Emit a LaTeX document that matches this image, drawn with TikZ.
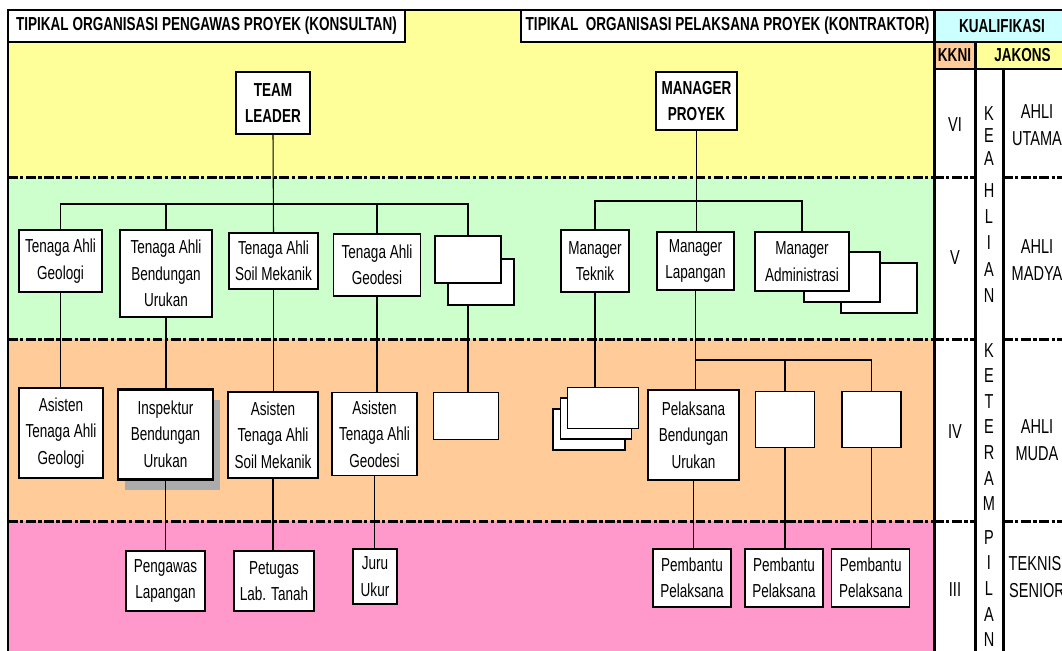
\documentclass[tikz,border=0pt]{standalone}
\usepackage{fontspec}
\setmainfont{Liberation Sans}[FakeStretch=0.72]
\usepackage{tikz}
\usetikzlibrary{positioning, backgrounds, shadows}
\definecolor{bandyellow}{HTML}{FFFF99}
\definecolor{bandgreen}{HTML}{CCFFCC}
\definecolor{bandorange}{HTML}{FFCC99}
\definecolor{bandpink}{HTML}{FF99CC}
\definecolor{headcyan}{HTML}{CCFFFF}
\newcommand{\boxfont}{\fontsize{10.7}{15}\selectfont}
\newcommand{\colfont}{\fontsize{11.5}{15}\selectfont}

\begin{document}
\begin{tikzpicture}[
    x=0.02cm, y=-0.02cm,
    wh/.style 2 args={minimum width=#1*0.02cm, minimum height=#2*0.02cm},
    n/.style={rectangle, draw, fill=white, line width=0.7pt, inner sep=0pt,
              align=center, font=\boxfont},
    nb/.style={n, font=\boxfont\bfseries, line width=0.9pt},
    hd/.style={rectangle, draw, line width=1.7pt, inner sep=0pt, font=\boxfont\bfseries},
    t/.style={inner sep=0pt, align=center, font=\colfont},
    e/.style={line width=0.6pt},
    bd/.style={line width=1.7pt},
    dl/.style={line width=1.7pt, dash pattern=on 5.5pt off 1.5pt on 1.8pt off 1.5pt}
]
\useasboundingbox (0,0) rectangle (1062,650);

% header row
\node[hd, fill=white, wh={397}{32}] (konsultan) at (206.5,26) {TIPIKAL ORGANISASI PENGAWAS PROYEK (KONSULTAN)};
\node[hd, fill=white, wh={413}{32}] (kontraktor) at (727.5,26) {TIPIKAL\ \ ORGANISASI PELAKSANA PROYEK (KONTRAKTOR)};
\node[hd, fill=headcyan, wh={136}{32}] (kualifikasi) at (1002,26) {KUALIFIKASI};
\node[hd, fill=bandorange, wh={41}{27}] (kkni) at (954.5,55.5) {KKNI};
\node[hd, fill=bandyellow, wh={95}{27}] (jakons) at (1022.5,55.5) {JAKONS};

% konsultan
\node[nb, wh={74}{62}] (tl) at (273,103) {TEAM\\LEADER};
\node[n, wh={83}{62}] (tag) at (60.5,261) {Tenaga Ahli\\Geologi};
\node[n, wh={92}{87}] (tab) at (166,273.5) {Tenaga Ahli\\Bendungan\\Urukan};
\node[n, wh={89}{56}] (tas) at (273.5,261) {Tenaga Ahli\\Soil Mekanik};
\node[n, wh={87}{62}] (tad) at (377,265) {Tenaga Ahli\\Geodesi};
\node[n, wh={66}{46}] (txb) at (481,282) {};
\node[n, wh={66}{47}] (txf) at (468,259.5) {};

\node[n, wh={84}{90}] (atg) at (61,433) {Asisten\\Tenaga Ahli\\Geologi};
\node[n, wh={95}{90}, line width=1.7pt,
      drop shadow={shadow xshift=3.7pt, shadow yshift=-6pt, fill=black!33, opacity=1}]
      (ibu) at (165.5,434) {Inspektur\\Bendungan\\Urukan};
\node[n, wh={90}{86}] (ats) at (273,435) {Asisten\\Tenaga Ahli\\Soil Mekanik};
\node[n, wh={85}{83}] (atd) at (374.5,434) {Asisten\\Tenaga Ahli\\Geodesi};
\node[n, wh={65}{47}] (ax) at (466,416) {};

\node[n, wh={79}{60}] (pl) at (165.5,581) {Pengawas\\Lapangan};
\node[n, wh={80}{60}] (plt) at (274,581) {Petugas\\Lab. Tanah};
\node[n, wh={44}{55}] (ju) at (375,576.5) {Juru\\Ukur};

% kontraktor
\node[nb, wh={81}{58}] (mp) at (696.5,101) {MANAGER\\PROYEK};
\node[n, wh={68}{62}] (mt) at (595,261) {Manager\\Teknik};
\node[n, wh={77}{58}] (ml) at (695.5,261) {Manager\\Lapangan};
\node[n, wh={76}{50}] (mab2) at (879,288) {};
\node[n, wh={76}{50}] (mab1) at (842,277) {};
\node[n, wh={94}{59}] (ma) at (802,261.5) {Manager\\Administrasi};

\node[n, wh={72}{41}] (ms3) at (589,429.5) {};
\node[n, wh={71}{41}] (ms2) at (596.3,418.5) {};
\node[n, wh={71}{41}] (ms1) at (603,408) {};
\node[n, wh={91}{90}] (pbu) at (693.5,435) {Pelaksana\\Bendungan\\Urukan};
\node[n, wh={59}{56}] (pa) at (785,419.5) {};
\node[n, wh={59}{56}] (pb) at (871.4,419.5) {};

\node[n, wh={78}{58}] (pp1) at (692,578) {Pembantu\\Pelaksana};
\node[n, wh={78}{58}] (pp2) at (784,578) {Pembantu\\Pelaksana};
\node[n, wh={78}{58}] (pp3) at (870.7,578) {Pembantu\\Pelaksana};

% kualifikasi
\node[t] (vi) at (955,125) {VI};
\node[t] (v) at (955,258) {V};
\node[t] (iv) at (955,432) {IV};
\node[t] (iii) at (955,590) {III};
\node[t, font=\fontsize{11.5}{12.8}\selectfont] (keahlian1) at (989,136) {K\\E\\A};
\node[t] (keahlian2) at (989,243) {H\\L\\I\\A\\N};
\node[t, font=\fontsize{11.5}{14.6}\selectfont] (keterampilan1) at (989,427) {K\\E\\T\\E\\R\\A\\M};
\node[t, font=\fontsize{11.5}{14.6}\selectfont] (keterampilan2) at (989,588.5) {P\\I\\L\\A\\N};
\node[t] (utama) at (1037,125) {AHLI\\UTAMA};
\node[t] (madya) at (1037,260) {AHLI\\MADYA};
\node[t] (muda) at (1037,440) {AHLI\\MUDA};
\node[t] (senior) at (1037,577) {TEKNISI\\SENIOR};

% line over the shadow
\draw[e] (ibu.south) -- (ibu.south |- pl.north);

\begin{scope}[on background layer]
% bands
\fill[bandyellow] (8,10) rectangle (934,177);
\fill[bandgreen] (8,177) rectangle (934,339);
\fill[bandorange] (8,339) rectangle (934,521);
\fill[bandpink] (8,521) rectangle (934,660);
\fill[white] (934,69) rectangle (1070,660);
\foreach \y in {177,339,521} {
  \draw[dl] (8,\y) -- (934,\y);
  \draw[dl] (934,\y) -- (975,\y);
  \draw[dl] (1003,\y) -- (1070,\y);
}
% connectors konsultan
\coordinate (kbus) at (273,204);
\draw[e] (tl.south) -- (tas.north);
\draw[e] (tag.north) |- (kbus) -| (txf.north);
\draw[e] (tab.north) -- (tab.north |- kbus);
\draw[e] (tad.north) -- (tad.north |- kbus);
\draw[e] (tag.south) -- (tag.south |- atg.north);
\draw[e] (tab.south) -- (tab.south |- ibu.north);
\draw[e] (tas.south) -- (tas.south |- ats.north);
\draw[e] (tad.south) -- (tad.south |- atd.north);
\draw[e] (txf.south) -- (txf.south |- ax.north);
\draw[e] (ats.south) -- (ats.south |- plt.north);
\draw[e] (atd.south) -- (atd.south |- ju.north);
% connectors kontraktor
\coordinate (cbus) at (696,201);
\coordinate (pbus) at (785,360);
\draw[e] (mp.south) -- (mp.south |- ml.north);
\draw[e] (mt.north) |- (cbus) -| (ma.north);
\draw[e] (mt.south) -- (mt.south |- ms1.north);
\draw[e] (ml.south) -- (ml.south |- pbu.north);
\draw[e] (ml.south |- pbus) -| (pb.north);
\draw[e] (pa.north) -- (pa.north |- pbus);
\draw[e] (pbu.south) -- (pbu.south |- pp1.north);
\draw[e] (pa.south) -- (pa.south |- pp2.north);
\draw[e] (pb.south) -- (pb.south |- pp3.north);
% frame
\draw[bd] (8,660) -- (8,10) -- (1070,10);
\draw[bd] (934,10) -- (934,660);
\draw[bd] (975,42) -- (975,660);
\draw[bd] (1003,69) -- (1003,660);
\draw[bd] (934,69) -- (1070,69);
\end{scope}
\end{tikzpicture}
\end{document}
